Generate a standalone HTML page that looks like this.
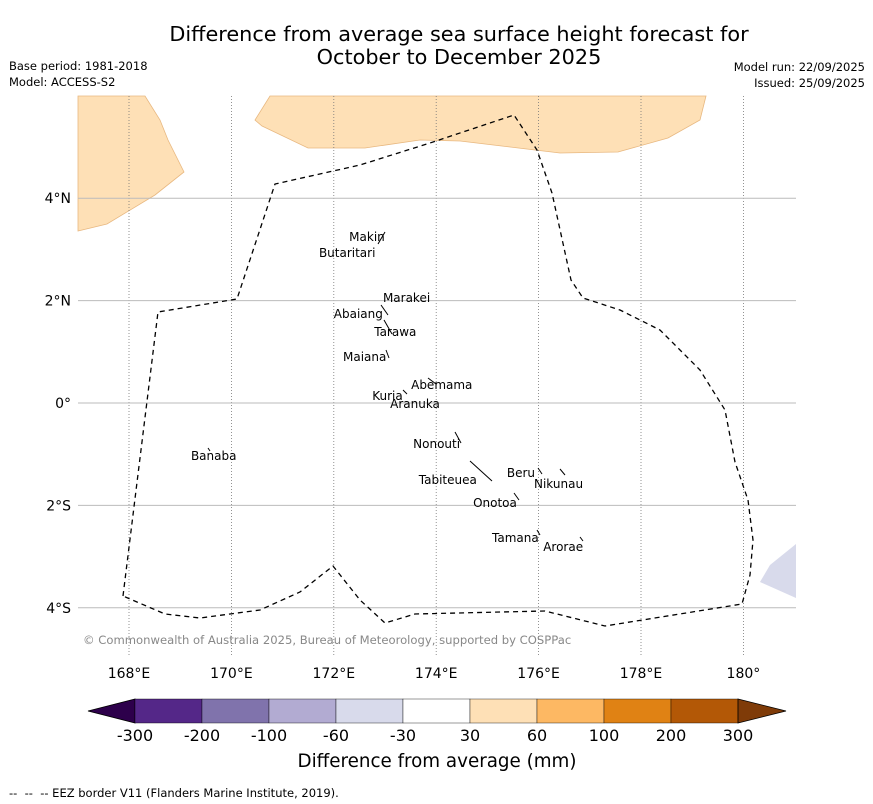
<!DOCTYPE html>
<html><head><meta charset="utf-8">
<style>
body{margin:0;background:#fff;}
svg{display:block;font-family:"DejaVu Sans","Liberation Sans",sans-serif;}
</style></head>
<body>
<svg id="map" width="873" height="804" viewBox="0 0 873 804">
  <text x="459" y="41" font-size="20.8" text-anchor="middle">Difference from average sea surface height forecast for</text>
  <text x="459" y="64" font-size="20.8" text-anchor="middle">October to December 2025</text>
  <text x="9" y="70" font-size="11.5">Base period: 1981-2018</text>
  <text x="9" y="86" font-size="11.5">Model: ACCESS-S2</text>
  <text x="865" y="71" font-size="11.5" text-anchor="end">Model run: 22/09/2025</text>
  <text x="865" y="87" font-size="11.5" text-anchor="end">Issued: 25/09/2025</text>

  <g id="mapArea">
    <path d="M78,96 L145,96 L160,120 L168,140 L184,172 L155,195 L107,224 L78,231 Z" fill="#fee0b6" stroke="#e8b880" stroke-width="0.8"/>
    <path d="M270,96 L706,96 L700,120 L668,138 L618,152 L560,153 L460,141 L420,140 L365,148 L308,148 L262,126 L255,120 Z" fill="#fee0b6" stroke="#e8b880" stroke-width="0.8"/>
    <path d="M796,544 L796,598 L760,582 L770,565 Z" fill="#d8daeb"/>
    <g id="grid"></g>
    <path d="M123,596 L158,312 L237,299 L275,184 L360,165 L430,143 L514,115 L537,150 L552,193 L571,280 L583,298 L620,310 L660,330 L700,370 L725,410 L735,462 L748,500 L753,540 L750,575 L742,604 L605,626 L545,611 L415,614 L385,623 L360,600 L333,566 L300,592 L260,610 L200,618 L165,614 Z" fill="none" stroke="#000" stroke-width="1.3" stroke-dasharray="5,4"/>
    <g id="islands"></g>
    <text x="83" y="644" font-size="11.6" fill="#888">© Commonwealth of Australia 2025, Bureau of Meteorology, supported by COSPPac</text>
  </g>
  <g id="xticks"></g>
  <g id="yticks"></g>
  <g id="colorbar"></g>
  <text x="437" y="767" font-size="18.3" text-anchor="middle">Difference from average (mm)</text>
  <text x="9" y="797" font-size="11.5" xml:space="preserve">--  --  -- EEZ border V11 (Flanders Marine Institute, 2019).</text>
</svg>
<script>
const lonTicks=[168,170,172,174,176,178,180];
const lonLabels=["168°E","170°E","172°E","174°E","176°E","178°E","180°"];
const latTicks=[4,2,0,-2,-4];
const latLabels=["4°N","2°N","0°","2°S","4°S"];
const islandNames=["Makin","Butaritari","Marakei","Abaiang","Tarawa","Maiana","Abemama","Kuria","Aranuka","Nonouti","Banaba","Beru","Tabiteuea","Nikunau","Onotoa","Tamana","Arorae"];
const islandLon=[172.30,171.71,172.96,172.00,172.79,172.18,173.51,172.75,173.10,173.55,169.21,175.38,173.66,175.91,174.72,175.09,176.09];
const islandLat=[3.16,2.85,1.97,1.66,1.31,0.82,0.27,0.06,-0.10,-0.88,-1.11,-1.45,-1.58,-1.66,-2.03,-2.71,-2.89];
const cbBounds=["-300","-200","-100","-60","-30","30","60","100","200","300"];
const cbColors=["#542788","#8073ac","#b2abd2","#d8daeb","#ffffff","#fee0b6","#fdb863","#e08214","#b35806"];
const NS="http://www.w3.org/2000/svg";
const X=lon=>129+(lon-168)*51.2;
const Y=lat=>403-lat*51.2;
function mk(tag,attrs,parent){const e=document.createElementNS(NS,tag);for(const k in attrs)e.setAttribute(k,attrs[k]);parent.appendChild(e);return e;}
const grid=document.getElementById('grid');
lonTicks.forEach((lon,i)=>{
  const l=mk('line',{x1:X(lon),x2:X(lon),y1:96,y2:657,stroke:'#777','stroke-width':0.8,'stroke-dasharray':'1,2'},grid);
  
  
  const t=mk('text',{x:X(lon),y:678,'font-size':14,'text-anchor':'middle'},document.getElementById('xticks'));
  t.textContent=lonLabels[i];
  
  
});
latTicks.forEach((lat,i)=>{
  const l=mk('line',{x1:78,x2:796,y1:Y(lat),y2:Y(lat),stroke:'#bbb','stroke-width':1},grid);
  
  
  const t=mk('text',{x:71,y:Y(lat)+5,'font-size':14,'text-anchor':'end'},document.getElementById('yticks'));
  t.textContent=latLabels[i];
  
  
});
const isl=document.getElementById('islands');
islandNames.forEach((n,i)=>{
  const t=mk('text',{x:X(islandLon[i]),y:Y(islandLat[i]),'font-size':12},isl);
  t.textContent=n;
  
  
});
[[385,232,378,244],[381,305,388,315],[384,320,392,334],[386,350,389,358],[428,378,436,384],[455,432,461,443],[470,461,492,481],[538,468,542,474],[560,469,565,475],[514,493,519,500],[537,530,540,535],[580,537,583,541],[208,448,210,451],[403,390,407,394]].forEach(p=>{
  const l=mk('line',{x1:p[0],y1:p[1],x2:p[2],y2:p[3],stroke:'#000','stroke-width':1},isl);
  
  
});
const cb=document.getElementById('colorbar');
const x0=135,w=67.0,y0=699,h=24;
const la=mk('path',{d:`M${x0},${y0} L88,${y0+h/2} L${x0},${y0+h} Z`,fill:'#2d004b',stroke:'#000','stroke-width':0.8},cb);


cbColors.forEach((c,i)=>{
  const r=mk('rect',{x:x0+i*w,y:y0,width:w,height:h,fill:c,stroke:'#000','stroke-width':0.4},cb);
  
  
});
const xe=x0+cbColors.length*w;
const ra=mk('path',{d:`M${xe},${y0} L786,${y0+h/2} L${xe},${y0+h} Z`,fill:'#7f3b08',stroke:'#000','stroke-width':0.8},cb);


cbBounds.forEach((b,i)=>{
  const t=mk('text',{x:x0+i*w,y:741,'font-size':16,'text-anchor':'middle'},cb);
  t.textContent=b;
  
  
});
</script>
</body></html>
